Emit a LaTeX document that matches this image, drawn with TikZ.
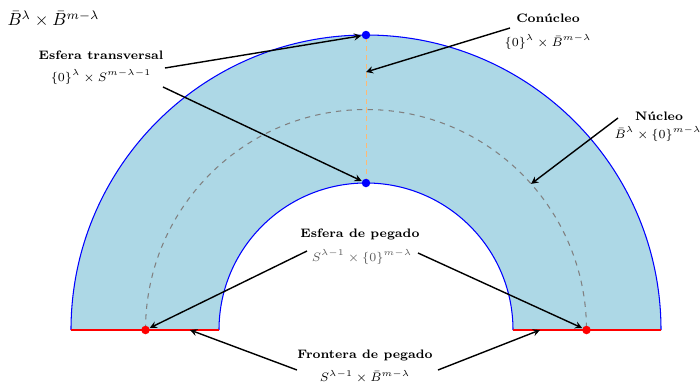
\documentclass[tikz,border=0pt]{standalone}
\usepackage{amsmath}

\definecolor{handlefill}{RGB}{173,216,230}

\begin{document}
\begin{tikzpicture}[
   >=stealth,
   line width=0.6pt,
   title/.style={font=\scriptsize\bfseries},
   formula/.style={font=\scriptsize},
   pointer/.style={->,line width=0.8pt},
   dot/.style={circle,inner sep=0pt,minimum size=0.17cm}
]

   \useasboundingbox (-7.32,-1.1) rectangle (6.68,6.6);

   % Handle
   \fill[handlefill]
      (-5.9,0) arc (180:0:5.9)
      -- (2.94,0) arc (0:180:2.94)
      -- cycle;

   \draw[blue] (-5.9,0) arc (180:0:5.9);
   \draw[blue] (2.94,0) arc (0:180:2.94);

   % Attaching boundary
   \draw[red] (-5.9,0) -- (-2.94,0);
   \draw[red] (2.94,0) -- (5.9,0);

   % Core
   \draw[gray,dashed] (-4.41,0) arc (180:0:4.41);

   % Cocore
   \draw[orange!55,densely dashed,line width=0.4pt] (0,2.94) -- (0,5.9);

   % Points
   \node[dot,fill=blue] (outertop) at (0,5.9) {};
   \node[dot,fill=blue] (innertop) at (0,2.94) {};
   \node[dot,fill=red] (leftdot) at (-4.41,0) {};
   \node[dot,fill=red] (rightdot) at (4.41,0) {};

   \coordinate (cocorept) at (0,5.16);
   \coordinate (corept) at (41.5:4.41);
   \coordinate (leftbase) at (-3.52,0);
   \coordinate (rightbase) at (3.48,0);

   % Product
   \node[anchor=west,inner sep=0pt] (product) at (-7.18,6.22)
   {
      $\bar{B}^\lambda\times\bar{B}^{m-\lambda}$
   };

   % Transverse sphere
   \node[title] (transtitle) at (-5.3,5.5) {Esfera transversal};
   \node[formula] (transform) at (-5.3,5.06)
   {
      $\{0\}^\lambda\times S^{m-\lambda-1}$
   };

   \coordinate (transA) at (-4.02,5.24);
   \coordinate (transB) at (-4.06,4.86);

   \draw[pointer] (transA) -- (outertop);
   \draw[pointer] (transB) -- (innertop);

   % Cocore label
   \node[title] (cocoretitle) at (3.64,6.24) {Con\'ucleo};
   \node[formula] (cocoreform) at (3.64,5.76)
   {
      $\{0\}^\lambda\times\bar{B}^{m-\lambda}$
   };

   \coordinate (cocoreA) at (2.88,6.04);
   \draw[pointer] (cocoreA) -- (cocorept);

   % Core label
   \node[title] (coretitle) at (5.86,4.28) {N\'ucleo};
   \node[formula] (coreform) at (5.84,3.92)
   {
      $\bar{B}^\lambda\times\{0\}^{m-\lambda}$
   };

   \coordinate (coreA) at (5.04,4.24);
   \draw[pointer] (coreA) -- (corept);

   % Attaching sphere
   \node[title] (attachtitle) at (-0.12,1.92) {Esfera de pegado};
   \node[formula,black!65] (attachform) at (-0.08,1.46)
   {
      $S^{\lambda-1}\times\{0\}^{m-\lambda}$
   };

   \coordinate (attachA) at (-1.18,1.58);
   \coordinate (attachB) at (1.04,1.54);

   \draw[pointer] (attachA) -- (leftdot);
   \draw[pointer] (attachB) -- (rightdot);

   % Attaching region
   \node[title] (bndtitle) at (-0.02,-0.5) {Frontera de pegado};
   \node[formula] (bndform) at (-0.02,-0.94)
   {
      $S^{\lambda-1}\times\bar{B}^{m-\lambda}$
   };

   \coordinate (bndA) at (-1.38,-0.8);
   \coordinate (bndB) at (1.44,-0.8);

   \draw[pointer] (bndA) -- (leftbase);
   \draw[pointer] (bndB) -- (rightbase);

\end{tikzpicture}
\end{document}
